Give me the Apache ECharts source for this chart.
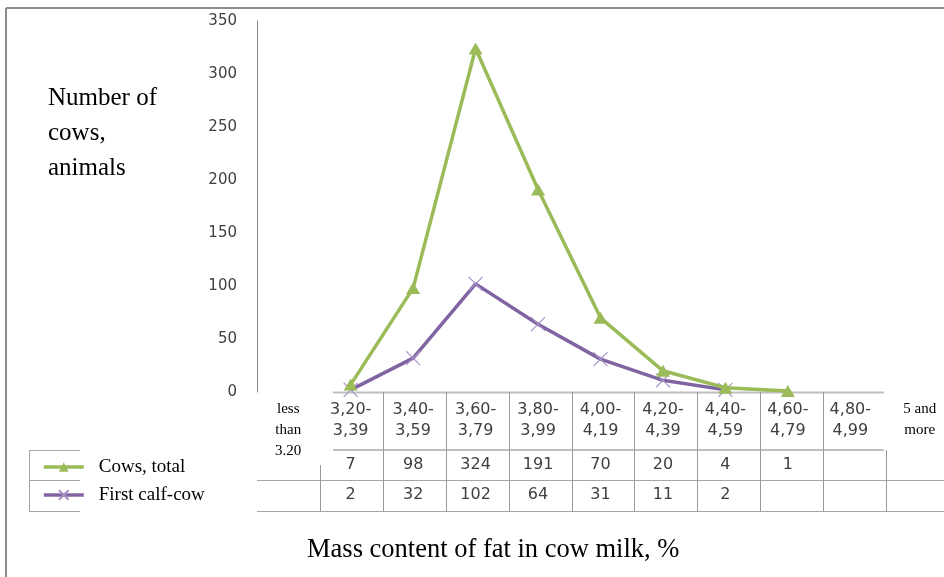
<!DOCTYPE html>
<html>
<head>
<meta charset="utf-8">
<script src="https://cdn.jsdelivr.net/npm/echarts@6/dist/echarts.min.js"></script>
<style>
html,body{margin:0;padding:0;background:#fff;}
#chart{width:944px;height:577px;}
</style>
</head>
<body>
<div id="chart"></div>
<script>
// ---- data ----
const categories = ['less\nthan\n3.20', '3,20-\n3,39', '3,40-\n3,59', '3,60-\n3,79', '3,80-\n3,99', '4,00-\n4,19', '4,20-\n4,39', '4,40-\n4,59', '4,60-\n4,79', '4,80-\n4,99', '5 and\nmore'];
const cowsTotal = [null, 7, 98, 324, 191, 70, 20, 4, 1, null, null];
const firstCalf = [null, 2, 32, 102, 64, 31, 11, 2, null, null, null];
const seriesNames = ['Cows, total', 'First calf-cow'];
const yTicks = { min: 0, max: 350, interval: 50 };

// ---- layout ----
const W = 944, H = 577;
const gridLeft = 257, gridTop = 21, axisY = 392;
const gridRight = -5;
const plotW = W - gridLeft - gridRight;
const colW = plotW / categories.length;
const bx = k => Math.round(gridLeft + k * colW) + 0.5;

const sansFont = '"DejaVu Sans", Verdana, sans-serif';
const serifFont = '"Liberation Serif", "Times New Roman", serif';

const chart = echarts.init(document.getElementById('chart'), null, { renderer: 'canvas' });

const lineGray = '#a6a6a6';
const lightGray = '#bfbfbf';
const gfx = [];
function hline(x1, x2, y, color, w) {
  gfx.push({ type: 'line', silent: true, shape: { x1, y1: y, x2, y2: y }, style: { stroke: color, lineWidth: w || 1 } });
}
function vline(x, y1, y2, color, w) {
  gfx.push({ type: 'line', silent: true, shape: { x1: x, y1, x2: x, y2 }, style: { stroke: color, lineWidth: w || 1 } });
}
// outer frame
hline(6, W, 8, '#8c8c8c', 2);
vline(6, 8, H, '#8c8c8c', 2);
// x-axis line and header bottom
hline(333, 884, axisY + 0.5, lightGray, 2);
hline(333, 884, 450, lightGray, 2);
// row lines
hline(gridLeft, W, 480.5, lineGray, 1);
hline(gridLeft, W, 511.5, lineGray, 1);
// column separators
for (let k = 2; k <= 9; k++) vline(bx(k), axisY, 511.5, '#999999', 1);
vline(bx(1), 465, 511.5, '#999999', 1);
vline(bx(10), 450, 511.5, '#999999', 1);
// legend key cells
hline(29, 80, 450.5, lineGray, 1);
hline(29, 80, 480.5, lineGray, 1);
hline(29, 80, 511.5, lineGray, 1);
vline(29.5, 450, 511.5, lineGray, 1);
// titles
gfx.push({ type: 'text', left: 48, top: 81, silent: true,
  style: { text: 'Number of\ncows,\nanimals', font: '25px ' + serifFont, fill: '#000', lineHeight: 35 } });
gfx.push({ type: 'text', left: 307, top: 537, silent: true,
  style: { text: 'Mass content of fat in cow milk, %', font: '26.5px ' + serifFont, fill: '#000' } });

function headerFmt(v, i) {
  const serif = /[a-z]/.test(v);
  const tag = serif ? (i === categories.length - 1 ? 's2' : 's') : 'h';
  return v.split('\n').map(s => '{' + tag + '|' + s + '}').join('\n');
}

const rowAxis = (arr, margin) => ({
  type: 'category', data: categories, position: 'bottom', gridIndex: 0,
  axisLine: { show: false }, axisTick: { show: false }, splitLine: { show: false },
  axisLabel: {
    interval: 0, margin: margin, fontFamily: sansFont, fontSize: 16, color: '#404040',
    formatter: (v, i) => (arr[i] == null ? '' : String(arr[i]))
  }
});

chart.setOption({
  animation: false,
  backgroundColor: '#fff',
  grid: { left: gridLeft, right: gridRight, top: gridTop, bottom: H - axisY, containLabel: false },
  legend: {
    orient: 'vertical', left: 37, top: 452, itemWidth: 40, itemHeight: 12, itemGap: 8,
    selectedMode: false,
    data: seriesNames,
    lineStyle: { width: 3.5 },
    textStyle: { fontFamily: serifFont, fontSize: 19, color: '#000', lineHeight: 20, padding: [0, 0, 0, 10] }
  },
  xAxis: [
    {
      type: 'category', data: categories, boundaryGap: true,
      axisLine: { show: false }, axisTick: { show: false }, splitLine: { show: false },
      axisLabel: {
        interval: 0, margin: 7, formatter: headerFmt,
        rich: {
          h: { fontFamily: sansFont, fontSize: 16, color: '#404040', lineHeight: 21 },
          s: { fontFamily: serifFont, fontSize: 15, color: '#000', lineHeight: 21 },
          s2: { fontFamily: serifFont, fontSize: 15, color: '#000', lineHeight: 21, padding: [0, 0, 0, 14] }
        }
      }
    },
    rowAxis(cowsTotal, 65),
    rowAxis(firstCalf, 95)
  ],
  yAxis: {
    type: 'value', min: yTicks.min, max: yTicks.max, interval: yTicks.interval,
    axisLine: { show: true, lineStyle: { color: '#868686', width: 1 } },
    axisTick: { show: false }, splitLine: { show: false },
    axisLabel: { margin: 20, fontFamily: sansFont, fontSize: 15, color: '#404040' }
  },
  series: [
    {
      name: seriesNames[0], type: 'line', data: cowsTotal, xAxisIndex: 0,
      symbol: 'triangle', symbolSize: [14, 12], showAllSymbol: true,
      lineStyle: { width: 3.5, color: '#9BBB59' },
      itemStyle: { color: '#9BBB59' }, z: 3
    },
    {
      name: seriesNames[1], type: 'line', data: firstCalf, xAxisIndex: 0,
      symbol: 'path://M0,0L10,10M10,0L0,10', symbolSize: 14, showAllSymbol: true,
      lineStyle: { width: 3.5, color: '#8064A2' },
      itemStyle: { color: 'rgba(0,0,0,0)', borderColor: '#A692C8', borderWidth: 1.2 }, z: 2
    }
  ],
  graphic: gfx
});
</script>
</body>
</html>
